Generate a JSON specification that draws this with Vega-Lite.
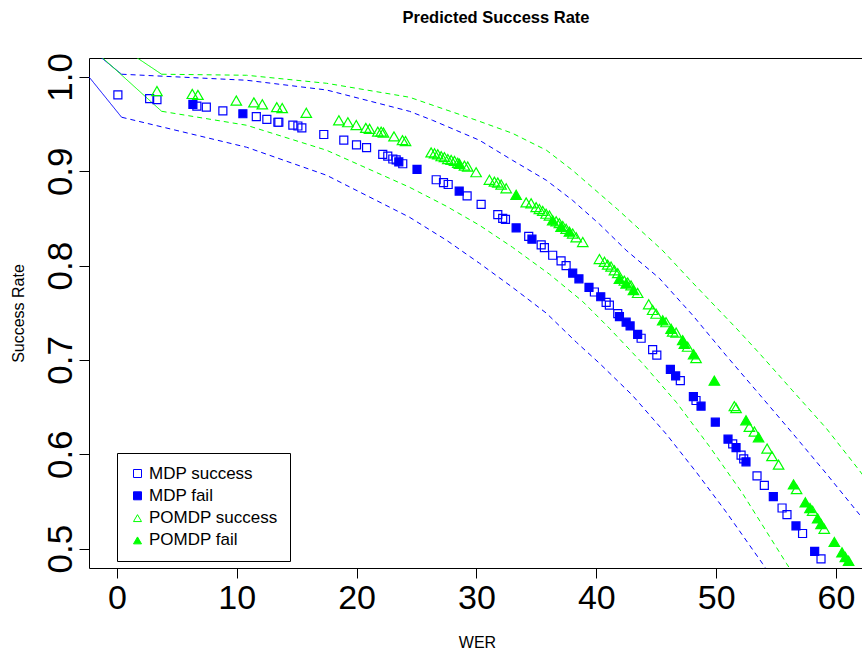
{
  "$schema": "https://vega.github.io/schema/vega-lite/v6.json",
  "width": 776,
  "height": 510,
  "autosize": {"type": "none"},
  "padding": {"left": 89, "top": 58, "right": 0, "bottom": 82},
  "background": "white",
  "title": {"text": "Predicted Success Rate", "font": "Liberation Sans", "fontSize": 16.5, "fontWeight": "bold", "color": "black", "offset": 26, "anchor": "middle", "dx": 19},
  "config": {
    "view": {"stroke": "black", "strokeWidth": 1},
    "axis": {"grid": false, "domain": false, "tickColor": "black", "tickWidth": 1, "labelColor": "black", "titleColor": "black", "labelFont": "Liberation Sans", "titleFont": "Liberation Sans", "titleFontWeight": "normal"},
    "legend": {"orient": "none", "legendX": 28, "legendY": 395, "strokeColor": "black", "fillColor": "white", "padding": 12, "rowPadding": 4.3, "labelFont": "Liberation Sans", "labelFontSize": 17, "labelColor": "black", "symbolSize": 64, "symbolStrokeWidth": 1, "labelOffset": 3, "title": null}
  },
  "datasets": {
    "pts": [
      {"WER": 0.08, "SR": 0.981, "series": "MDP success"},
      {"WER": 2.73, "SR": 0.977, "series": "MDP success"},
      {"WER": 3.34, "SR": 0.976, "series": "MDP success"},
      {"WER": 6.67, "SR": 0.969, "series": "MDP success"},
      {"WER": 7.46, "SR": 0.968, "series": "MDP success"},
      {"WER": 8.84, "SR": 0.964, "series": "MDP success"},
      {"WER": 11.63, "SR": 0.958, "series": "MDP success"},
      {"WER": 12.51, "SR": 0.955, "series": "MDP success"},
      {"WER": 13.43, "SR": 0.952, "series": "MDP success"},
      {"WER": 13.51, "SR": 0.952, "series": "MDP success"},
      {"WER": 14.68, "SR": 0.949, "series": "MDP success"},
      {"WER": 15.10, "SR": 0.948, "series": "MDP success"},
      {"WER": 15.43, "SR": 0.946, "series": "MDP success"},
      {"WER": 17.26, "SR": 0.939, "series": "MDP success"},
      {"WER": 18.93, "SR": 0.933, "series": "MDP success"},
      {"WER": 19.99, "SR": 0.928, "series": "MDP success"},
      {"WER": 20.83, "SR": 0.925, "series": "MDP success"},
      {"WER": 22.18, "SR": 0.918, "series": "MDP success"},
      {"WER": 22.60, "SR": 0.916, "series": "MDP success"},
      {"WER": 23.02, "SR": 0.913, "series": "MDP success"},
      {"WER": 23.30, "SR": 0.912, "series": "MDP success"},
      {"WER": 23.85, "SR": 0.908, "series": "MDP success"},
      {"WER": 26.64, "SR": 0.891, "series": "MDP success"},
      {"WER": 27.25, "SR": 0.888, "series": "MDP success"},
      {"WER": 27.64, "SR": 0.886, "series": "MDP success"},
      {"WER": 29.22, "SR": 0.874, "series": "MDP success"},
      {"WER": 30.39, "SR": 0.865, "series": "MDP success"},
      {"WER": 31.78, "SR": 0.854, "series": "MDP success"},
      {"WER": 32.19, "SR": 0.850, "series": "MDP success"},
      {"WER": 32.42, "SR": 0.849, "series": "MDP success"},
      {"WER": 34.36, "SR": 0.831, "series": "MDP success"},
      {"WER": 35.40, "SR": 0.822, "series": "MDP success"},
      {"WER": 35.67, "SR": 0.819, "series": "MDP success"},
      {"WER": 36.36, "SR": 0.811, "series": "MDP success"},
      {"WER": 37.06, "SR": 0.805, "series": "MDP success"},
      {"WER": 37.48, "SR": 0.800, "series": "MDP success"},
      {"WER": 39.84, "SR": 0.772, "series": "MDP success"},
      {"WER": 40.82, "SR": 0.761, "series": "MDP success"},
      {"WER": 41.09, "SR": 0.758, "series": "MDP success"},
      {"WER": 41.79, "SR": 0.749, "series": "MDP success"},
      {"WER": 43.74, "SR": 0.723, "series": "MDP success"},
      {"WER": 44.70, "SR": 0.711, "series": "MDP success"},
      {"WER": 45.05, "SR": 0.705, "series": "MDP success"},
      {"WER": 47.01, "SR": 0.678, "series": "MDP success"},
      {"WER": 48.32, "SR": 0.657, "series": "MDP success"},
      {"WER": 51.38, "SR": 0.611, "series": "MDP success"},
      {"WER": 52.08, "SR": 0.599, "series": "MDP success"},
      {"WER": 52.30, "SR": 0.595, "series": "MDP success"},
      {"WER": 53.41, "SR": 0.577, "series": "MDP success"},
      {"WER": 54.02, "SR": 0.567, "series": "MDP success"},
      {"WER": 55.50, "SR": 0.543, "series": "MDP success"},
      {"WER": 55.91, "SR": 0.536, "series": "MDP success"},
      {"WER": 57.21, "SR": 0.516, "series": "MDP success"},
      {"WER": 58.75, "SR": 0.489, "series": "MDP success"},
      {"WER": 6.34, "SR": 0.971, "series": "MDP fail"},
      {"WER": 10.51, "SR": 0.961, "series": "MDP fail"},
      {"WER": 23.52, "SR": 0.910, "series": "MDP fail"},
      {"WER": 25.04, "SR": 0.902, "series": "MDP fail"},
      {"WER": 28.56, "SR": 0.879, "series": "MDP fail"},
      {"WER": 33.31, "SR": 0.840, "series": "MDP fail"},
      {"WER": 34.63, "SR": 0.828, "series": "MDP fail"},
      {"WER": 38.03, "SR": 0.792, "series": "MDP fail"},
      {"WER": 38.55, "SR": 0.786, "series": "MDP fail"},
      {"WER": 39.39, "SR": 0.777, "series": "MDP fail"},
      {"WER": 40.37, "SR": 0.767, "series": "MDP fail"},
      {"WER": 41.93, "SR": 0.746, "series": "MDP fail"},
      {"WER": 42.49, "SR": 0.740, "series": "MDP fail"},
      {"WER": 42.82, "SR": 0.736, "series": "MDP fail"},
      {"WER": 43.45, "SR": 0.727, "series": "MDP fail"},
      {"WER": 46.18, "SR": 0.690, "series": "MDP fail"},
      {"WER": 46.62, "SR": 0.683, "series": "MDP fail"},
      {"WER": 48.10, "SR": 0.661, "series": "MDP fail"},
      {"WER": 48.74, "SR": 0.651, "series": "MDP fail"},
      {"WER": 49.93, "SR": 0.634, "series": "MDP fail"},
      {"WER": 50.99, "SR": 0.616, "series": "MDP fail"},
      {"WER": 51.66, "SR": 0.607, "series": "MDP fail"},
      {"WER": 52.49, "SR": 0.592, "series": "MDP fail"},
      {"WER": 54.77, "SR": 0.555, "series": "MDP fail"},
      {"WER": 56.66, "SR": 0.524, "series": "MDP fail"},
      {"WER": 58.22, "SR": 0.497, "series": "MDP fail"},
      {"WER": 3.34, "SR": 0.985, "series": "POMDP success"},
      {"WER": 6.29, "SR": 0.982, "series": "POMDP success"},
      {"WER": 6.76, "SR": 0.981, "series": "POMDP success"},
      {"WER": 9.96, "SR": 0.975, "series": "POMDP success"},
      {"WER": 11.43, "SR": 0.973, "series": "POMDP success"},
      {"WER": 12.13, "SR": 0.971, "series": "POMDP success"},
      {"WER": 13.34, "SR": 0.968, "series": "POMDP success"},
      {"WER": 13.79, "SR": 0.967, "series": "POMDP success"},
      {"WER": 15.80, "SR": 0.962, "series": "POMDP success"},
      {"WER": 18.52, "SR": 0.954, "series": "POMDP success"},
      {"WER": 19.27, "SR": 0.952, "series": "POMDP success"},
      {"WER": 19.97, "SR": 0.949, "series": "POMDP success"},
      {"WER": 20.77, "SR": 0.946, "series": "POMDP success"},
      {"WER": 21.08, "SR": 0.945, "series": "POMDP success"},
      {"WER": 21.77, "SR": 0.942, "series": "POMDP success"},
      {"WER": 22.05, "SR": 0.942, "series": "POMDP success"},
      {"WER": 22.24, "SR": 0.941, "series": "POMDP success"},
      {"WER": 23.12, "SR": 0.937, "series": "POMDP success"},
      {"WER": 23.83, "SR": 0.933, "series": "POMDP success"},
      {"WER": 24.08, "SR": 0.932, "series": "POMDP success"},
      {"WER": 26.22, "SR": 0.920, "series": "POMDP success"},
      {"WER": 26.50, "SR": 0.919, "series": "POMDP success"},
      {"WER": 26.77, "SR": 0.918, "series": "POMDP success"},
      {"WER": 27.06, "SR": 0.916, "series": "POMDP success"},
      {"WER": 27.33, "SR": 0.915, "series": "POMDP success"},
      {"WER": 27.61, "SR": 0.913, "series": "POMDP success"},
      {"WER": 27.89, "SR": 0.912, "series": "POMDP success"},
      {"WER": 28.17, "SR": 0.911, "series": "POMDP success"},
      {"WER": 28.44, "SR": 0.909, "series": "POMDP success"},
      {"WER": 29.00, "SR": 0.906, "series": "POMDP success"},
      {"WER": 29.27, "SR": 0.905, "series": "POMDP success"},
      {"WER": 29.97, "SR": 0.899, "series": "POMDP success"},
      {"WER": 31.08, "SR": 0.891, "series": "POMDP success"},
      {"WER": 31.50, "SR": 0.889, "series": "POMDP success"},
      {"WER": 31.78, "SR": 0.888, "series": "POMDP success"},
      {"WER": 32.06, "SR": 0.886, "series": "POMDP success"},
      {"WER": 32.48, "SR": 0.882, "series": "POMDP success"},
      {"WER": 34.15, "SR": 0.867, "series": "POMDP success"},
      {"WER": 34.56, "SR": 0.866, "series": "POMDP success"},
      {"WER": 34.98, "SR": 0.862, "series": "POMDP success"},
      {"WER": 35.25, "SR": 0.860, "series": "POMDP success"},
      {"WER": 35.53, "SR": 0.858, "series": "POMDP success"},
      {"WER": 35.81, "SR": 0.855, "series": "POMDP success"},
      {"WER": 36.09, "SR": 0.853, "series": "POMDP success"},
      {"WER": 36.65, "SR": 0.847, "series": "POMDP success"},
      {"WER": 36.92, "SR": 0.845, "series": "POMDP success"},
      {"WER": 37.20, "SR": 0.842, "series": "POMDP success"},
      {"WER": 37.48, "SR": 0.839, "series": "POMDP success"},
      {"WER": 38.03, "SR": 0.834, "series": "POMDP success"},
      {"WER": 38.32, "SR": 0.830, "series": "POMDP success"},
      {"WER": 38.87, "SR": 0.825, "series": "POMDP success"},
      {"WER": 40.26, "SR": 0.807, "series": "POMDP success"},
      {"WER": 40.68, "SR": 0.804, "series": "POMDP success"},
      {"WER": 40.95, "SR": 0.801, "series": "POMDP success"},
      {"WER": 41.23, "SR": 0.799, "series": "POMDP success"},
      {"WER": 41.51, "SR": 0.795, "series": "POMDP success"},
      {"WER": 41.79, "SR": 0.792, "series": "POMDP success"},
      {"WER": 42.34, "SR": 0.784, "series": "POMDP success"},
      {"WER": 42.62, "SR": 0.782, "series": "POMDP success"},
      {"WER": 42.90, "SR": 0.779, "series": "POMDP success"},
      {"WER": 43.45, "SR": 0.771, "series": "POMDP success"},
      {"WER": 44.37, "SR": 0.759, "series": "POMDP success"},
      {"WER": 44.70, "SR": 0.753, "series": "POMDP success"},
      {"WER": 44.99, "SR": 0.749, "series": "POMDP success"},
      {"WER": 45.82, "SR": 0.740, "series": "POMDP success"},
      {"WER": 46.37, "SR": 0.730, "series": "POMDP success"},
      {"WER": 46.66, "SR": 0.729, "series": "POMDP success"},
      {"WER": 47.62, "SR": 0.714, "series": "POMDP success"},
      {"WER": 48.32, "SR": 0.702, "series": "POMDP success"},
      {"WER": 51.52, "SR": 0.651, "series": "POMDP success"},
      {"WER": 51.66, "SR": 0.649, "series": "POMDP success"},
      {"WER": 52.77, "SR": 0.629, "series": "POMDP success"},
      {"WER": 53.19, "SR": 0.624, "series": "POMDP success"},
      {"WER": 54.25, "SR": 0.606, "series": "POMDP success"},
      {"WER": 54.66, "SR": 0.598, "series": "POMDP success"},
      {"WER": 55.21, "SR": 0.589, "series": "POMDP success"},
      {"WER": 56.71, "SR": 0.563, "series": "POMDP success"},
      {"WER": 58.05, "SR": 0.540, "series": "POMDP success"},
      {"WER": 59.02, "SR": 0.521, "series": "POMDP success"},
      {"WER": 28.58, "SR": 0.908, "series": "POMDP fail"},
      {"WER": 33.31, "SR": 0.875, "series": "POMDP fail"},
      {"WER": 36.36, "SR": 0.848, "series": "POMDP fail"},
      {"WER": 37.06, "SR": 0.841, "series": "POMDP fail"},
      {"WER": 37.76, "SR": 0.836, "series": "POMDP fail"},
      {"WER": 41.93, "SR": 0.786, "series": "POMDP fail"},
      {"WER": 42.49, "SR": 0.781, "series": "POMDP fail"},
      {"WER": 43.10, "SR": 0.774, "series": "POMDP fail"},
      {"WER": 45.54, "SR": 0.742, "series": "POMDP fail"},
      {"WER": 46.24, "SR": 0.733, "series": "POMDP fail"},
      {"WER": 47.21, "SR": 0.721, "series": "POMDP fail"},
      {"WER": 47.35, "SR": 0.717, "series": "POMDP fail"},
      {"WER": 48.12, "SR": 0.706, "series": "POMDP fail"},
      {"WER": 49.85, "SR": 0.678, "series": "POMDP fail"},
      {"WER": 52.49, "SR": 0.636, "series": "POMDP fail"},
      {"WER": 53.54, "SR": 0.618, "series": "POMDP fail"},
      {"WER": 56.46, "SR": 0.568, "series": "POMDP fail"},
      {"WER": 57.44, "SR": 0.549, "series": "POMDP fail"},
      {"WER": 57.83, "SR": 0.543, "series": "POMDP fail"},
      {"WER": 58.47, "SR": 0.532, "series": "POMDP fail"},
      {"WER": 58.75, "SR": 0.526, "series": "POMDP fail"},
      {"WER": 59.86, "SR": 0.507, "series": "POMDP fail"},
      {"WER": 60.50, "SR": 0.496, "series": "POMDP fail"},
      {"WER": 60.78, "SR": 0.491, "series": "POMDP fail"},
      {"WER": 61.05, "SR": 0.487, "series": "POMDP fail"}
    ],
    "lines": [
      {"WER": -3, "SR": 1.038, "model": "MDP", "bound": "upper", "segment": "lead"},
      {"WER": 0.39, "SR": 1.0029, "model": "MDP", "bound": "upper", "segment": "lead"},
      {"WER": -3, "SR": 1.0106, "model": "MDP", "bound": "lower", "segment": "lead"},
      {"WER": 0.39, "SR": 0.9573, "model": "MDP", "bound": "lower", "segment": "lead"},
      {"WER": -3, "SR": 1.06, "model": "POMDP", "bound": "upper", "segment": "lead"},
      {"WER": 3.73, "SR": 1.0029, "model": "POMDP", "bound": "upper", "segment": "lead"},
      {"WER": -3, "SR": 1.041, "model": "POMDP", "bound": "lower", "segment": "lead"},
      {"WER": 3.73, "SR": 0.9636, "model": "POMDP", "bound": "lower", "segment": "lead"},

      {"WER": 0.39, "SR": 1.0029, "model": "MDP", "bound": "upper", "segment": "band"},
      {"WER": 10.82, "SR": 0.9965, "model": "MDP", "bound": "upper", "segment": "band"},
      {"WER": 17.49, "SR": 0.9862, "model": "MDP", "bound": "upper", "segment": "band"},
      {"WER": 24.41, "SR": 0.9636, "model": "MDP", "bound": "upper", "segment": "band"},
      {"WER": 26.33, "SR": 0.9541, "model": "MDP", "bound": "upper", "segment": "band"},
      {"WER": 30.25, "SR": 0.9329, "model": "MDP", "bound": "upper", "segment": "band"},
      {"WER": 33.0, "SR": 0.9117, "model": "MDP", "bound": "upper", "segment": "band"},
      {"WER": 35.84, "SR": 0.8904, "model": "MDP", "bound": "upper", "segment": "band"},
      {"WER": 38.01, "SR": 0.8693, "model": "MDP", "bound": "upper", "segment": "band"},
      {"WER": 40.26, "SR": 0.8440, "model": "MDP", "bound": "upper", "segment": "band"},
      {"WER": 42.49, "SR": 0.8163, "model": "MDP", "bound": "upper", "segment": "band"},
      {"WER": 45.26, "SR": 0.7866, "model": "MDP", "bound": "upper", "segment": "band"},
      {"WER": 48.04, "SR": 0.7474, "model": "MDP", "bound": "upper", "segment": "band"},
      {"WER": 50.82, "SR": 0.7049, "model": "MDP", "bound": "upper", "segment": "band"},
      {"WER": 53.60, "SR": 0.6636, "model": "MDP", "bound": "upper", "segment": "band"},
      {"WER": 56.38, "SR": 0.6222, "model": "MDP", "bound": "upper", "segment": "band"},
      {"WER": 59.17, "SR": 0.5798, "model": "MDP", "bound": "upper", "segment": "band"},
      {"WER": 61.94, "SR": 0.5364, "model": "MDP", "bound": "upper", "segment": "band"},
      {"WER": 63.6, "SR": 0.512, "model": "MDP", "bound": "upper", "segment": "band"},

      {"WER": 0.39, "SR": 0.9573, "model": "MDP", "bound": "lower", "segment": "band"},
      {"WER": 10.82, "SR": 0.9255, "model": "MDP", "bound": "lower", "segment": "band"},
      {"WER": 17.49, "SR": 0.8958, "model": "MDP", "bound": "lower", "segment": "band"},
      {"WER": 24.41, "SR": 0.8513, "model": "MDP", "bound": "lower", "segment": "band"},
      {"WER": 27.50, "SR": 0.8269, "model": "MDP", "bound": "lower", "segment": "band"},
      {"WER": 30.25, "SR": 0.8025, "model": "MDP", "bound": "lower", "segment": "band"},
      {"WER": 33.00, "SR": 0.7770, "model": "MDP", "bound": "lower", "segment": "band"},
      {"WER": 35.84, "SR": 0.7495, "model": "MDP", "bound": "lower", "segment": "band"},
      {"WER": 38.34, "SR": 0.7187, "model": "MDP", "bound": "lower", "segment": "band"},
      {"WER": 40.26, "SR": 0.6965, "model": "MDP", "bound": "lower", "segment": "band"},
      {"WER": 43.01, "SR": 0.6625, "model": "MDP", "bound": "lower", "segment": "band"},
      {"WER": 45.85, "SR": 0.6212, "model": "MDP", "bound": "lower", "segment": "band"},
      {"WER": 48.35, "SR": 0.5809, "model": "MDP", "bound": "lower", "segment": "band"},
      {"WER": 50.85, "SR": 0.5385, "model": "MDP", "bound": "lower", "segment": "band"},
      {"WER": 53.85, "SR": 0.4844, "model": "MDP", "bound": "lower", "segment": "band"},
      {"WER": 56.10, "SR": 0.4420, "model": "MDP", "bound": "lower", "segment": "band"},

      {"WER": 3.73, "SR": 1.0029, "model": "POMDP", "bound": "upper", "segment": "band"},
      {"WER": 10.82, "SR": 1.0018, "model": "POMDP", "bound": "upper", "segment": "band"},
      {"WER": 17.49, "SR": 0.9933, "model": "POMDP", "bound": "upper", "segment": "band"},
      {"WER": 24.41, "SR": 0.9785, "model": "POMDP", "bound": "upper", "segment": "band"},
      {"WER": 30.00, "SR": 0.9541, "model": "POMDP", "bound": "upper", "segment": "band"},
      {"WER": 33.00, "SR": 0.9403, "model": "POMDP", "bound": "upper", "segment": "band"},
      {"WER": 35.84, "SR": 0.9223, "model": "POMDP", "bound": "upper", "segment": "band"},
      {"WER": 38.01, "SR": 0.9011, "model": "POMDP", "bound": "upper", "segment": "band"},
      {"WER": 41.77, "SR": 0.8597, "model": "POMDP", "bound": "upper", "segment": "band"},
      {"WER": 45.51, "SR": 0.8163, "model": "POMDP", "bound": "upper", "segment": "band"},
      {"WER": 48.01, "SR": 0.7823, "model": "POMDP", "bound": "upper", "segment": "band"},
      {"WER": 51.68, "SR": 0.7336, "model": "POMDP", "bound": "upper", "segment": "band"},
      {"WER": 53.60, "SR": 0.7071, "model": "POMDP", "bound": "upper", "segment": "band"},
      {"WER": 56.35, "SR": 0.6678, "model": "POMDP", "bound": "upper", "segment": "band"},
      {"WER": 59.19, "SR": 0.6275, "model": "POMDP", "bound": "upper", "segment": "band"},
      {"WER": 61.94, "SR": 0.5830, "model": "POMDP", "bound": "upper", "segment": "band"},
      {"WER": 63.61, "SR": 0.5543, "model": "POMDP", "bound": "upper", "segment": "band"},

      {"WER": 3.73, "SR": 0.9636, "model": "POMDP", "bound": "lower", "segment": "band"},
      {"WER": 10.82, "SR": 0.9488, "model": "POMDP", "bound": "lower", "segment": "band"},
      {"WER": 17.49, "SR": 0.9223, "model": "POMDP", "bound": "lower", "segment": "band"},
      {"WER": 24.41, "SR": 0.8831, "model": "POMDP", "bound": "lower", "segment": "band"},
      {"WER": 27.50, "SR": 0.8629, "model": "POMDP", "bound": "lower", "segment": "band"},
      {"WER": 30.25, "SR": 0.8428, "model": "POMDP", "bound": "lower", "segment": "band"},
      {"WER": 33.00, "SR": 0.8195, "model": "POMDP", "bound": "lower", "segment": "band"},
      {"WER": 36.09, "SR": 0.7909, "model": "POMDP", "bound": "lower", "segment": "band"},
      {"WER": 38.84, "SR": 0.7622, "model": "POMDP", "bound": "lower", "segment": "band"},
      {"WER": 41.09, "SR": 0.7336, "model": "POMDP", "bound": "lower", "segment": "band"},
      {"WER": 43.85, "SR": 0.6965, "model": "POMDP", "bound": "lower", "segment": "band"},
      {"WER": 46.68, "SR": 0.6551, "model": "POMDP", "bound": "lower", "segment": "band"},
      {"WER": 49.43, "SR": 0.6085, "model": "POMDP", "bound": "lower", "segment": "band"},
      {"WER": 52.19, "SR": 0.5587, "model": "POMDP", "bound": "lower", "segment": "band"},
      {"WER": 55.86, "SR": 0.4844, "model": "POMDP", "bound": "lower", "segment": "band"},
      {"WER": 56.94, "SR": 0.4632, "model": "POMDP", "bound": "lower", "segment": "band"}
    ]
  },
  "encoding": {
    "x": {"field": "WER", "type": "quantitative",
      "scale": {"domain": [-2.33, 62.42], "nice": false, "zero": false},
      "axis": {"values": [0, 10, 20, 30, 40, 50, 60], "labelFontSize": 34, "tickSize": 10, "labelPadding": 3, "title": "WER", "titleFontSize": 16, "titleX": 388, "titleY": 74, "titleBaseline": "middle", "titleAnchor": "middle"}},
    "y": {"field": "SR", "type": "quantitative",
      "scale": {"domain": [0.4794, 1.0201], "nice": false, "zero": false},
      "axis": {"values": [0.5, 0.6, 0.7, 0.8, 0.9, 1.0], "format": ".1f", "labelFontSize": 35, "labelAngle": -90, "labelAlign": "center", "labelBaseline": "alphabetic", "tickSize": 10, "labelPadding": 8, "title": "Success Rate", "titleFontSize": 16, "titleAngle": -90, "titleX": -71, "titleY": 255, "titleBaseline": "middle", "titleAlign": "center"}}
  },
  "layer": [
    {
      "data": {"name": "lines"},
      "mark": {"type": "line", "strokeWidth": 1, "clip": true},
      "encoding": {
        "detail": [{"field": "model"}, {"field": "bound"}, {"field": "segment"}],
        "color": {"field": "model", "type": "nominal", "scale": {"domain": ["MDP", "POMDP"], "range": ["#0000FF", "#00FF00"]}, "legend": null},
        "strokeDash": {"field": "segment", "type": "nominal", "scale": {"domain": ["lead", "band"], "range": [[1, 0], [5, 4]]}, "legend": null}
      }
    },
    {
      "data": {"name": "pts"},
      "transform": [{"filter": "indexof(datum.series, 'MDP') === 0"}],
      "mark": {"type": "point", "size": 64, "strokeWidth": 1.2, "opacity": 1, "clip": true},
      "encoding": {
        "shape": {"field": "series", "type": "nominal", "scale": {"domain": ["MDP success", "MDP fail", "POMDP success", "POMDP fail"], "range": ["square", "square", "triangle-up", "triangle-up"]}},
        "stroke": {"field": "series", "type": "nominal", "scale": {"domain": ["MDP success", "MDP fail", "POMDP success", "POMDP fail"], "range": ["#0000FF", "#0000FF", "#00FF00", "#00FF00"]}},
        "fill": {"field": "series", "type": "nominal", "scale": {"domain": ["MDP success", "MDP fail", "POMDP success", "POMDP fail"], "range": ["transparent", "#0000FF", "transparent", "#00FF00"]}}
      }
    },
    {
      "data": {"name": "pts"},
      "transform": [{"filter": "indexof(datum.series, 'POMDP') === 0"}],
      "mark": {"type": "point", "size": 110, "strokeWidth": 1.2, "opacity": 1, "clip": true},
      "encoding": {
        "shape": {"field": "series", "type": "nominal", "scale": {"domain": ["MDP success", "MDP fail", "POMDP success", "POMDP fail"], "range": ["square", "square", "triangle-up", "triangle-up"]}},
        "stroke": {"field": "series", "type": "nominal", "scale": {"domain": ["MDP success", "MDP fail", "POMDP success", "POMDP fail"], "range": ["#0000FF", "#0000FF", "#00FF00", "#00FF00"]}},
        "fill": {"field": "series", "type": "nominal", "scale": {"domain": ["MDP success", "MDP fail", "POMDP success", "POMDP fail"], "range": ["transparent", "#0000FF", "transparent", "#00FF00"]}}
      }
    }
  ]
}
